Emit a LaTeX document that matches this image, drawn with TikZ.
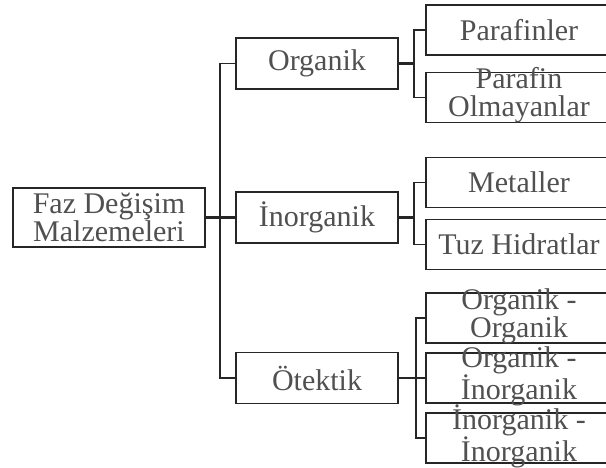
\documentclass[tikz,border=0pt]{standalone}
\usepackage{fontspec}
\setmainfont{Liberation Serif}
\definecolor{cizgirenk}{HTML}{262626}
\definecolor{yazirenk}{HTML}{505050}
\tikzset{
  kutu/.style={rectangle,draw=cizgirenk,line width=1.6pt,inner sep=0pt,text=yazirenk,align=center},
  ana/.style={kutu,minimum width=192pt,minimum height=59pt},
  orta/.style={kutu,minimum width=162pt,minimum height=51pt},
  yaprak/.style={kutu,minimum width=186pt,minimum height=50pt},
  etiket/.style={text=yazirenk,align=center,inner sep=0pt,yshift=2pt},
  cizgi/.style={draw=cizgirenk,line width=1.6pt},
  kalin/.style={draw=cizgirenk,line width=2.6pt}
}
\begin{document}
\begin{tikzpicture}[x=1pt,y=1pt,every node/.style={font=\fontsize{30}{28}\selectfont}]
\useasboundingbox (-109,-250.5) rectangle (497,217.5);
\clip (-109,-250.5) rectangle (497,217.5);
\node[ana] (fdm) {Faz Değişim\\Malzemeleri};
\node[orta,right of=fdm,node distance=208pt] (inorg) {İnorganik};
\node[orta,above of=inorg,node distance=154pt] (org) {Organik};
\node[orta,below of=inorg,node distance=160.5pt] (otek) {Ötektik};
\node[yaprak,right of=org,node distance=202pt,yshift=33.5pt] (paraf) {Parafinler};
\node[yaprak,right of=org,node distance=202pt,yshift=-34pt,label={[etiket]center:{Parafin\\Olmayanlar}}] (parafol) {};
\node[yaprak,right of=inorg,node distance=202pt,yshift=35pt] (metal) {Metaller};
\node[yaprak,right of=inorg,node distance=202pt,yshift=-27pt] (tuz) {Tuz Hidratlar};
\node[yaprak,right of=otek,node distance=202pt,yshift=60pt,label={[etiket]center:{Organik -\\Organik}}] (oo) {};
\node[yaprak,right of=otek,node distance=202pt,label={[etiket]center:{Organik -\\İnorganik}}] (oi) {};
\node[yaprak,right of=otek,node distance=202pt,yshift=-60pt,label={[etiket]center:{İnorganik -\\İnorganik}}] (ii) {};
\draw[kalin] (fdm.east) -- (inorg.west);
\draw[cizgi] (org.west) -- ++(-15,0) |- (otek.west);
\draw[kalin] (org.east) -- ++(15,0) coordinate (orgk);
\draw[cizgi] (orgk) |- (paraf.west);
\draw[cizgi] (orgk) |- (parafol.west);
\draw[kalin] (inorg.east) -- ++(15,0) coordinate (inorgk);
\draw[cizgi] (inorgk) |- (metal.west);
\draw[cizgi] (inorgk) |- (tuz.west);
\draw[kalin] (otek.east) -- ++(17,0) coordinate (otekk);
\draw[cizgi] (otekk) |- (oo.west);
\draw[cizgi] (otekk) |- (oi.west);
\draw[cizgi] (otekk) |- (ii.west);
\end{tikzpicture}
\end{document}
